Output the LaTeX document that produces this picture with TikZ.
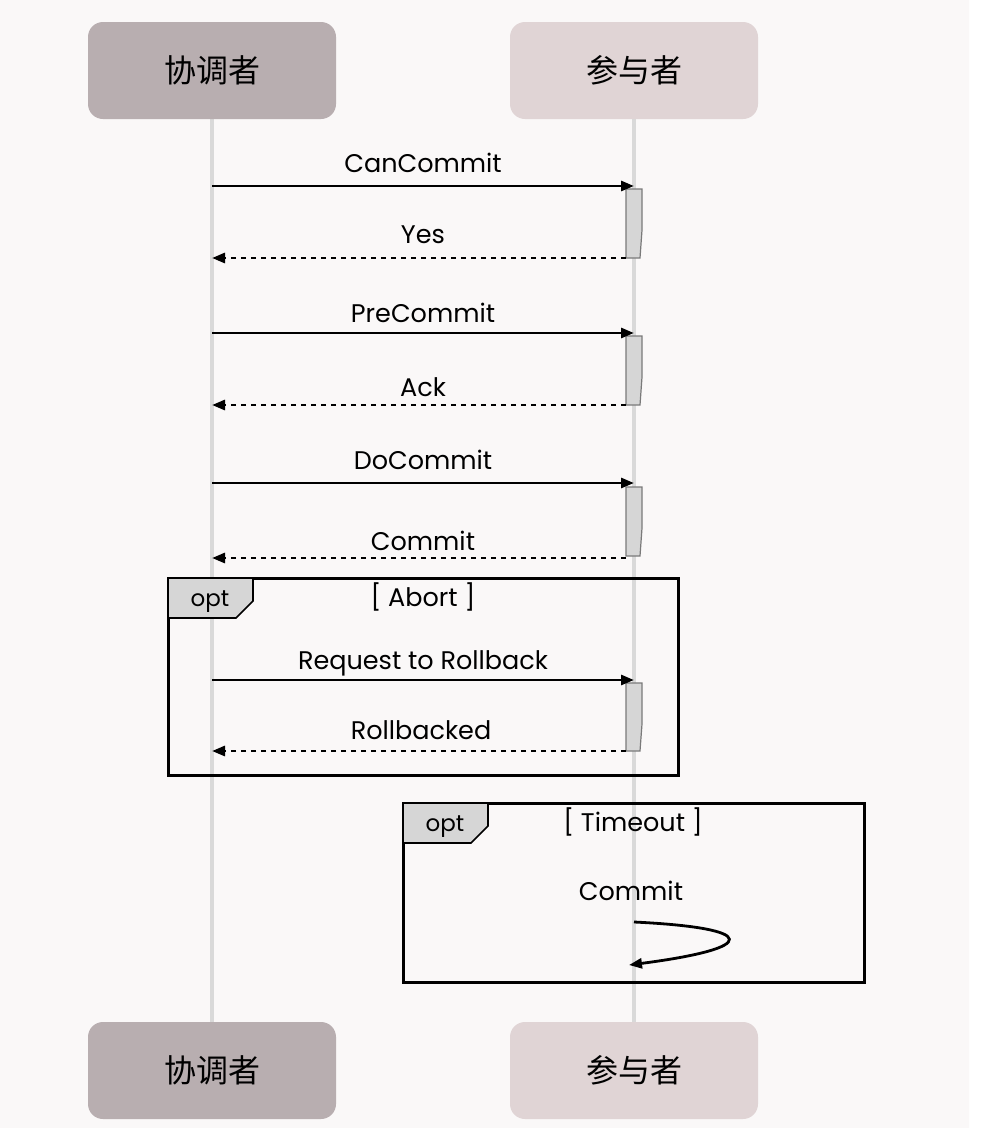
\documentclass[tikz,border=0pt]{standalone}
\usepackage{fontspec}
\setmainfont{Poppins}
\newfontfamily\cjk{Noto Sans CJK SC}
\usetikzlibrary{arrows.meta}
\definecolor{bgc}{HTML}{FAF8F8}
\definecolor{coord}{HTML}{B8AEB0}
\definecolor{part}{HTML}{E0D4D5}
\definecolor{lifec}{HTML}{D9D9D9}
\definecolor{actc}{HTML}{D6D6D6}
\definecolor{actb}{HTML}{7A7A7A}
\tikzset{
  x=1pt, y=-1pt,
  actor/.style={rounded corners=15pt, minimum width=248pt, minimum height=97pt, inner sep=0pt, font=\cjk\fontsize{32}{32}\selectfont},
  lifeline/.style={draw=lifec, line width=4pt},
  msg/.style={line width=2.8pt, -{Triangle[length=13pt,width=10pt]}},
  reply/.style={line width=2.8pt, dash pattern=on 5pt off 5pt, -{Triangle[length=13pt,width=10pt]}},
  lbl/.style={font=\fontsize{25.5}{25.5}\selectfont, inner sep=0pt, anchor=base},
  actbox/.style={fill=actc, draw=actb, line width=1.2pt},
  frame/.style={draw=black, line width=3pt},
  tag/.style={fill=actc, draw=black, line width=1.6pt},
  taglbl/.style={font=\fontsize{23}{23}\selectfont, inner sep=0pt, anchor=base},
}
\begin{document}
\begin{tikzpicture}
\useasboundingbox (0,0) rectangle (986,1128);
\fill[white] (0,0) rectangle (986,1128);
\fill[bgc] (0,0) -- (955,0) arc[start angle=90, end angle=0, radius=14] -- (969,1128) -- (0,1128) -- cycle;

% lifelines
\coordinate (cT) at (212,119); \coordinate (cB) at (212,1022);
\coordinate (pT) at (634,119); \coordinate (pB) at (634,1022);
\draw[lifeline] (cT) -- (cB);
\draw[lifeline] (pT) -- (pB);

% actors
\node[actor, fill=coord] (c1) at (212,70.5) {协调者};
\node[actor, fill=part] (p1) at (634,70.5) {参与者};
\node[actor, fill=coord] (c2) at (212,1070.5) {协调者};
\node[actor, fill=part] (p2) at (634,1070.5) {参与者};

% activation boxes
\foreach \t/\b [count=\i] in {189/258, 336/405, 487/556, 683/751}{
  \draw[actbox] (626,\t) -- (642,\t) -- (642,\t+41) -- (640,\b) -- (626,\b) -- cycle;
}

% messages
\coordinate (m1a) at (212,186); \coordinate (m1b) at (634,186);
\draw[msg] (m1a) -- (m1b);
\node[lbl] (l1) at (423,172) {CanCommit};
\coordinate (m2a) at (626,258); \coordinate (m2b) at (212,258);
\draw[reply] (m2a) -- (m2b);
\node[lbl] (l2) at (423,243) {Yes};

\coordinate (m3a) at (212,333); \coordinate (m3b) at (634,333);
\draw[msg] (m3a) -- (m3b);
\node[lbl] (l3) at (423,322) {PreCommit};
\coordinate (m4a) at (626,405); \coordinate (m4b) at (212,405);
\draw[reply] (m4a) -- (m4b);
\node[lbl] (l4) at (423,396) {Ack};

\coordinate (m5a) at (212,483); \coordinate (m5b) at (634,483);
\draw[msg] (m5a) -- (m5b);
\node[lbl] (l5) at (423,469) {DoCommit};
\coordinate (m6a) at (626,558); \coordinate (m6b) at (212,558);
\draw[reply] (m6a) -- (m6b);
\node[lbl] (l6) at (423,550) {Commit};

% opt Abort
\draw[frame] (168,578) rectangle (678,775);
\draw[tag] (168,578) -- (253,578) -- (253,601) -- (236,618) -- (168,618) -- cycle;
\node[taglbl] (o1) at (210,606) {opt};
\node[lbl] (g1) at (423,606) {[ Abort ]};

\coordinate (m7a) at (212,680); \coordinate (m7b) at (634,680);
\draw[msg] (m7a) -- (m7b);
\node[lbl] (l7) at (423,669) {Request to Rollback};
\coordinate (m8a) at (626,751); \coordinate (m8b) at (212,751);
\draw[reply] (m8a) -- (m8b);
\node[lbl] (l8) at (421,739) {Rollbacked};

% opt Timeout
\draw[frame] (403,803) rectangle (864,982);
\draw[tag] (403,803) -- (488,803) -- (488,826) -- (471,843) -- (403,843) -- cycle;
\node[taglbl] (o2) at (445,831) {opt};
\node[lbl] (g2) at (633,831) {[ Timeout ]};

\node[lbl] (l9) at (631,900) {Commit};
\coordinate (s1) at (634,922); \coordinate (s2) at (629,965);
\draw[msg] (s1) .. controls (760,928) and (760,948) .. (s2);
\end{tikzpicture}
\end{document}
